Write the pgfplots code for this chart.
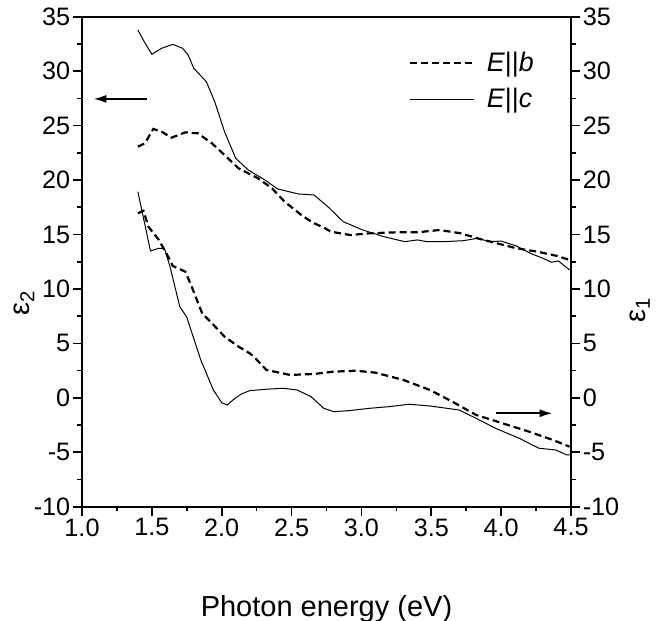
\documentclass[border=0pt]{standalone}
\usepackage{fontspec}
\setmainfont{Liberation Sans}
\usepackage{pgfplots}
\pgfplotsset{compat=1.18}
\usetikzlibrary{arrows.meta}

\pgfplotsset{common/.style={
  width=244.5pt, height=245pt, scale only axis,
  xmin=1, xmax=4.5, ymin=-10, ymax=35,
  ytick={-10,-5,...,35}, minor y tick num=1,
  tick align=outside, major tick length=4.5pt, minor tick length=2.3pt,
  tick style={black, line width=0.8pt},
  axis line style={line width=1pt},
  /pgf/number format/assume math mode=true,
  tick label style={font=\fontsize{12.6}{14}\selectfont, inner sep=1.2pt},
  clip=false,
}}

\begin{document}
\begin{tikzpicture}
\begin{axis}[common,
  xtick={1,1.5,2,2.5,3,3.5,4,4.5}, minor x tick num=1,
  xtick pos=left, ytick pos=left,
  x tick label style={/pgf/number format/.cd, fixed, fixed zerofill, precision=1, /tikz/.cd},
  xlabel={Photon energy (eV)},
  xlabel style={at={(axis description cs:0.5,0)}, anchor=north, yshift=-44pt, inner sep=0pt, font=\fontsize{14.5}{16}\selectfont},
  ylabel={ε\textsubscript{2}},
  ylabel style={at={(axis description cs:-0.118,0.416)}, anchor=center, inner sep=0pt, font=\fontsize{14.5}{16}\selectfont},
  legend style={draw=none, fill=none, at={(0.945,0.945)}, anchor=north east, font=\fontsize{13.4}{15}\selectfont, row sep=3pt},
  legend cell align=left,
  legend image code/.code={\draw[#1] (0pt,0pt) -- (32pt,0pt); \path (36pt,0pt);},
]
% eps2, E||b
\addplot[black, line width=1.1pt, dash pattern=on 3.5pt off 2pt] coordinates {
(1.40,23.06)(1.45,23.37)(1.51,24.69)(1.57,24.44)(1.64,23.89)(1.74,24.38)(1.83,24.29)(1.93,23.37)(2.02,22.30)(2.12,21.08)(2.26,20.16)(2.36,19.24)(2.45,18.01)(2.57,16.79)(2.65,16.1)(2.74,15.57)(2.78,15.26)(2.92,14.95)(3.06,15.11)(3.25,15.20)(3.40,15.20)(3.56,15.41)(3.71,15.11)(3.83,14.65)(3.97,14.19)(4.11,13.73)(4.26,13.42)(4.40,13.03)(4.49,12.66)
};
\addlegendentry{\textit{E}||\textit{b}}
% eps2, E||c
\addplot[black, line width=0.5pt] coordinates {
(1.40,33.78)(1.45,32.6)(1.50,31.55)(1.57,32.10)(1.65,32.46)(1.72,32.10)(1.76,31.48)(1.80,30.26)(1.89,29.03)(1.95,27.19)(2.02,24.44)(2.10,22.0)(2.19,20.92)(2.31,20.0)(2.40,19.18)(2.55,18.72)(2.66,18.63)(2.76,17.55)(2.87,16.17)(3.01,15.41)(3.16,14.80)(3.31,14.34)(3.40,14.50)(3.47,14.34)(3.59,14.34)(3.73,14.43)(3.83,14.65)(3.92,14.34)(4.00,14.40)(4.11,13.94)(4.21,13.27)(4.30,12.81)(4.36,12.45)(4.41,12.57)(4.49,11.74)
};
\addlegendentry{\textit{E}||\textit{c}}
\draw[line width=1pt, -{Latex[length=6.5pt,width=4pt]}] (axis cs:1.463,27.45) -- (axis cs:1.081,27.45);
\coordinate (sw) at (rel axis cs:0,0);
\coordinate (ne) at (rel axis cs:1,1);
\end{axis}
\begin{axis}[common,
  hide x axis, axis y line*=right, ytick pos=right,
]
% eps1, E||b
\addplot[black, line width=1.1pt, dash pattern=on 3.5pt off 2pt] coordinates {
(1.40,16.95)(1.44,17.18)(1.475,15.72)(1.55,14.50)(1.61,13.12)(1.65,12.11)(1.74,11.58)(1.785,10.21)(1.86,7.76)(1.93,6.85)(2.02,5.62)(2.12,4.70)(2.20,4.09)(2.23,3.78)(2.32,2.56)(2.49,2.10)(2.66,2.19)(2.80,2.40)(2.96,2.49)(3.10,2.31)(3.30,1.64)(3.49,0.72)(3.65,-0.35)(3.82,-1.57)(4.01,-2.34)(4.20,-3.11)(4.37,-3.87)(4.49,-4.49)
};
% eps1, E||c
\addplot[black, line width=0.5pt] coordinates {
(1.40,18.93)(1.49,13.49)(1.55,13.73)(1.59,13.73)(1.63,12.04)(1.70,8.37)(1.75,7.4)(1.85,3.48)(1.94,0.72)(2.00,-0.45)(2.04,-0.66)(2.08,-0.2)(2.14,0.35)(2.20,0.66)(2.32,0.79)(2.44,0.88)(2.54,0.72)(2.64,0.10)(2.73,-0.96)(2.80,-1.27)(2.91,-1.18)(3.06,-0.96)(3.20,-0.81)(3.34,-0.59)(3.49,-0.75)(3.70,-1.12)(3.82,-1.88)(3.96,-2.80)(4.13,-3.72)(4.27,-4.63)(4.39,-4.79)(4.47,-5.25)(4.50,-5.25)
};
\draw[line width=1pt, -{Latex[length=6.5pt,width=4pt]}] (axis cs:3.964,-1.42) -- (axis cs:4.369,-1.42);
\node[rotate=90, inner sep=0pt, font=\fontsize{14.5}{16}\selectfont] at (rel axis cs:1.141,0.402) {ε\textsubscript{1}};
\end{axis}
\pgfresetboundingbox
\path ([shift={(-41pt,-57pt)}]sw) rectangle ([shift={(50.5pt,8.35pt)}]ne);
\end{tikzpicture}
\end{document}
